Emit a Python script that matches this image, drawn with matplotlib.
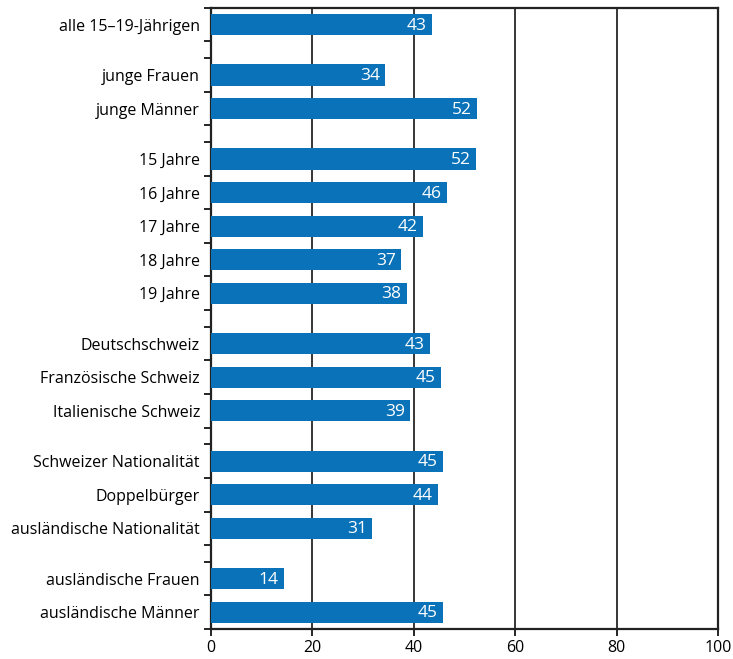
import matplotlib.pyplot as plt
import numpy as np

plt.rcParams['font.family'] = ['Open Sans', 'DejaVu Sans']

# groups of categories (top to bottom)
groups = [
    ["alle 15–19-Jährigen"],
    ["junge Frauen", "junge Männer"],
    ["15 Jahre", "16 Jahre", "17 Jahre", "18 Jahre", "19 Jahre"],
    ["Deutschschweiz", "Französische Schweiz", "Italienische Schweiz"],
    ["Schweizer Nationalität", "Doppelbürger", "ausländische Nationalität"],
    ["ausländische Frauen", "ausländische Männer"],
]
# bar lengths (estimated) and printed labels
values = [43.5, 34.3, 52.5, 52.2, 46.5, 41.8, 37.5, 38.6,
          43.1, 45.3, 39.2, 45.7, 44.7, 31.8, 14.3, 45.7]
labels = ["43", "34", "52", "52", "46", "42", "37", "38",
          "43", "45", "39", "45", "44", "31", "14", "45"]

bar_color = "#0a72b9"

# y layout: one slot per bar, half-slot gap between groups
centers, bounds, cats = [], [0.0], []
pos = 0.0
for gi, g in enumerate(groups):
    for c in g:
        centers.append(pos + 0.5)
        cats.append(c)
        pos += 1
        bounds.append(pos)
    if gi < len(groups) - 1:
        pos += 0.5
        bounds.append(pos)
total = pos

fig = plt.figure(figsize=(7.33, 6.59), dpi=100)
ax = fig.add_axes([0.288, 0.0455, 0.6915, 0.9425])

ax.barh(centers, values, height=0.63, color=bar_color, zorder=3)
for y, v, t in zip(centers, values, labels):
    ax.text(v - 1.0, y + 0.03, t, color="white", ha="right", va="center",
            fontsize=12.5, zorder=4)

ax.set_xlim(0, 100)
ax.set_ylim(total, 0)
ax.set_xticks(np.arange(0, 101, 20))
ax.set_xticklabels([str(x) for x in range(0, 101, 20)], fontsize=11.5)
ax.set_yticks(centers)
ax.set_yticklabels(cats, fontsize=11.5)
ax.set_yticks(bounds, minor=True)
ax.tick_params(axis='y', which='major', length=0, pad=8)
ax.tick_params(axis='y', which='minor', length=5, width=1.2, direction='out')
ax.tick_params(axis='x', length=5, width=1.2, pad=3)
ax.grid(axis='x', color='black', linewidth=1.1, zorder=1)

for s in ax.spines.values():
    s.set_linewidth(1.6)
    s.set_color('#222222')

fig.savefig("out.png", dpi=100)
